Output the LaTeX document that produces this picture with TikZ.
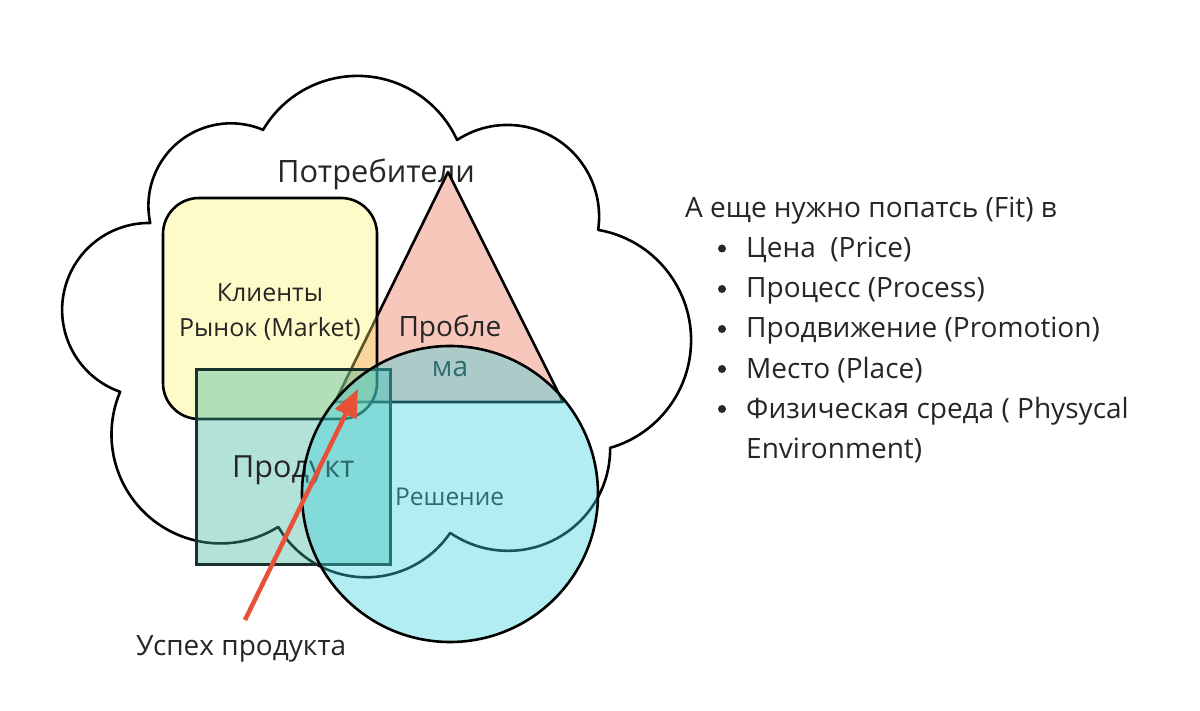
\documentclass[tikz,border=0pt]{standalone}
\usepackage{fontspec}
\setmainfont{Open Sans}
\usetikzlibrary{arrows.meta}
\definecolor{pinkfill}{RGB}{248,199,188}
\definecolor{yellowc}{RGB}{255,243,98}
\definecolor{greenc}{RGB}{65,182,158}
\definecolor{cyanc}{RGB}{60,210,220}
\definecolor{arrowc}{RGB}{232,80,55}
\definecolor{textc}{RGB}{38,38,38}
\definecolor{greenedge}{RGB}{25,50,45}
\begin{document}
\begin{tikzpicture}[x=1pt,y=-1pt,
  outl/.style={line width=2.6pt, line join=round},
  lbl/.style={inner sep=0pt, text=textc},
  fcons/.style={font=\fontsize{30.8}{34}\selectfont},
  fprod/.style={font=\fontsize{30.5}{34}\selectfont},
  fprob/.style={font=\fontsize{28}{32}\selectfont},
  fkl/.style={font=\fontsize{25}{30}\selectfont},
  fres/.style={font=\fontsize{24.5}{30}\selectfont},
  fusp/.style={font=\fontsize{28}{32}\selectfont},
  flist/.style={font=\fontsize{28}{40}\selectfont},
  bul/.style={circle, fill=textc, inner sep=0pt, minimum size=8pt},
]
\useasboundingbox (0,0) rectangle (1200,711);
% cloud
\draw[outl, black] (263,130)
  arc[start angle=210.4, end angle=335.5, radius=109.5]
  arc[start angle=236.7, end angle=368.3, radius=91.7]
  arc[start angle=279.8, end angle=433.9, radius=112]
  arc[start angle=-0.5, end angle=124.5, radius=102.1]
  arc[start angle=34.3, end angle=149.7, radius=101.8]
  arc[start angle=58, end angle=203, radius=109]
  arc[start angle=109.4, end angle=270.8, radius=86.9]
  arc[start angle=168, end angle=293.1, radius=82.5] -- cycle;
\node[lbl, fcons, anchor=base west] (potr) at (277,183) {Потребители};
% triangle
\draw[outl, black, fill=pinkfill] (448,172) -- (563,402) -- (335,402) -- cycle;
\node[lbl, fprob, anchor=base] (probl) at (450,337) {Пробле};
\node[lbl, fprob, anchor=base] (probl2) at (450,377) {ма};
% yellow rounded rectangle
\draw[outl, black, fill=yellowc, fill opacity=0.35, rounded corners=36pt] (163,198) rectangle (377,419);
\node[lbl, fkl, anchor=base] (klient) at (270,302) {Клиенты};
\node[lbl, fkl, anchor=base] (rynok) at (270,337) {Рынок (Market)};
% green rectangle
\draw[line width=3pt, greenedge, fill=greenc, fill opacity=0.4] (196,370) rectangle (390,564);
\node[lbl, fprod, anchor=base west] (prod) at (232,477) {Продукт};
\node[lbl, fres, anchor=base west] (resh) at (395,505) {Решение};
% circle
\draw[outl, black, fill=cyanc, fill opacity=0.4] (450,494) circle[radius=148];
% arrow
\coordinate (arrtail) at (245,620);
\coordinate (arrtip) at (358,389);
\draw[line width=4.5pt, arrowc, -{Triangle[length=28pt,width=23pt]}] (arrtail) -- (arrtip);
\node[lbl, fusp, anchor=base west] (uspeh) at (136,655) {Успех продукта};
% right list
\node[lbl, flist, anchor=base west] (head) at (685,218) {А еще нужно попатсь (Fit) в};
\node[bul] (b1) at (722,248.5) {};
\node[lbl, flist, anchor=base west] (i1) at (746,257.5) {Цена~~(Price)};
\node[bul] (b2) at (722,289) {};
\node[lbl, flist, anchor=base west] (i2) at (746,298) {Процесс (Process)};
\node[bul] (b3) at (722,329) {};
\node[lbl, flist, anchor=base west] (i3) at (746,338) {Продвижение (Promotion)};
\node[bul] (b4) at (722,369) {};
\node[lbl, flist, anchor=base west] (i4) at (746,378) {Место (Place)};
\node[bul] (b5) at (722,409) {};
\node[lbl, flist, anchor=base west] (i5) at (746,418) {Физическая среда ( Physycal};
\node[lbl, flist, anchor=base west] (i6) at (746,458) {Environment)};
\end{tikzpicture}
\end{document}
